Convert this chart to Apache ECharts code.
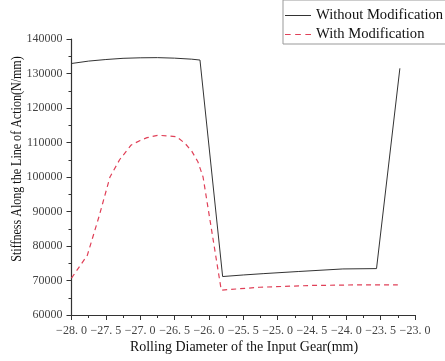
<!DOCTYPE html>
<html>
<head>
<meta charset="utf-8">
<script src="https://cdn.jsdelivr.net/npm/echarts@6/dist/echarts.min.js"></script>
<style>
html,body{margin:0;padding:0;background:#fff;}
#c{width:445px;height:361px;}
</style>
</head>
<body>
<div id="c"></div>
<script>
var xWithout = [-28, -27.75, -27.5, -27.25, -27, -26.75, -26.5, -26.25, -26.13, -25.8, -25.5, -25.2, -24.7, -24.05, -23.56, -23.22];
var yWithout = [132900, 133600, 134050, 134400, 134550, 134600, 134450, 134150, 133900, 71150, 71600, 72000, 72600, 73350, 73450, 131500];
var xWith = [-28, -27.77, -27.6, -27.44, -27.3, -27.13, -27.0, -26.9, -26.74, -26.6, -26.47, -26.35, -26.25, -26.16, -26.085, -25.82, -25.26, -24.53, -23.8, -23.25];
var yWith = [70700, 77300, 88500, 100000, 105000, 109300, 110600, 111400, 112100, 111900, 111650, 109800, 107500, 104400, 100000, 67200, 68050, 68550, 68750, 68750];
var xTickLabels = ['\u221228. 0','\u221227. 5','\u221227. 0','\u221226. 5','\u221226. 0','\u221225. 5','\u221225. 0','\u221224. 5','\u221224. 0','\u221223. 5','\u221223. 0'];
var yTickLabels = ['60000','70000','80000','90000','100000','110000','120000','130000','140000'];
var seriesNames = ['Without Modification', 'With Modification'];
var xTitle = 'Rolling Diameter of the Input Gear(mm)';
var yTitle = 'Stiffness Along the Line of Action(N/mm)';

function pairs(xs, ys){ return xs.map(function(x,i){ return [x, ys[i]]; }); }
var font = '"Liberation Serif", "DejaVu Serif", serif';
var blackC = '#333';
var redC = '#e04058';
var chart = echarts.init(document.getElementById('c'));
chart.setOption({
  animation: false,
  backgroundColor: '#fff',
  grid: {left: 71.5, right: 30, top: 39, bottom: 46, containLabel: false},
  legend: {
    orient: 'vertical', left: 283, top: 0,
    padding: [8, 4, 2, 2], itemGap: 4, itemWidth: 26, itemHeight: 14,
    borderColor: '#999', borderWidth: 1, backgroundColor: '#fff',
    textStyle: {fontFamily: font, fontSize: 14.6, color: '#111'},
    data: [
      {name: seriesNames[0], icon: 'path://M0,0H26V1H0Z', itemStyle: {color: blackC}},
      {name: seriesNames[1], icon: 'path://M0,0H5V1H0Z M9,0H14V1H9Z M18,0H23V1H18Z', itemStyle: {color: redC}}
    ]
  },
  xAxis: {
    type: 'value', min: -28, max: -23, interval: 0.5,
    axisLine: {lineStyle: {color: '#333', width: 1.2}},
    axisTick: {inside: false, length: 5, lineStyle: {color: '#333'}},
    minorTick: {show: true, splitNumber: 2, length: 3, lineStyle: {color: '#333'}},
    splitLine: {show: false},
    axisLabel: {fontFamily: font, fontSize: 12, color: '#444', margin: 10,
      formatter: function(v){ var i = Math.round((v + 28) / 0.5); return xTickLabels[i] || ''; }}
  },
  yAxis: {
    type: 'value', min: 60000, max: 140000, interval: 10000,
    axisLine: {show: true, lineStyle: {color: '#333', width: 1.2}},
    axisTick: {show: true, inside: false, length: 5, lineStyle: {color: '#333'}},
    minorTick: {show: true, splitNumber: 2, length: 3, lineStyle: {color: '#333'}},
    splitLine: {show: false},
    axisLabel: {fontFamily: font, fontSize: 12, color: '#444', margin: 9,
      formatter: function(v){ var i = Math.round((v - 60000) / 10000); return yTickLabels[i] || ''; }}
  },
  graphic: [
    {type: 'text', x: 244, y: 347, style: {text: xTitle, font: '14px ' + font, fill: '#111', textAlign: 'center', textVerticalAlign: 'middle'}},
    {type: 'text', x: 17, y: 159, rotation: Math.PI / 2, scaleX: 0.86,
      style: {text: yTitle, font: '14px ' + font, fill: '#111', textAlign: 'center', textVerticalAlign: 'middle'}}
  ],
  series: [
    {name: seriesNames[0], type: 'line', data: pairs(xWithout, yWithout), smooth: false, symbol: 'none',
      lineStyle: {color: blackC, width: 1}, itemStyle: {color: blackC}},
    {name: seriesNames[1], type: 'line', data: pairs(xWith, yWith), smooth: false, symbol: 'none',
      lineStyle: {color: redC, width: 1.2, type: [5, 4]}, itemStyle: {color: redC}}
  ]
});
</script>
</body>
</html>
